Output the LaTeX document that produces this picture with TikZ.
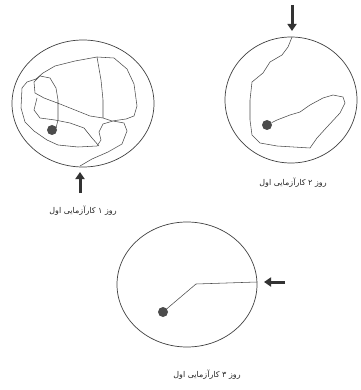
\documentclass[tikz,border=0pt]{standalone}
\usepackage{fontspec}
\usetikzlibrary{arrows.meta}
\TeXXeTstate=1
\newfontfamily\arabicfont[Script=Arabic]{DejaVu Sans}
\begin{document}
\begin{tikzpicture}[x=1pt,y=-1pt,
  rim/.style={draw=black!75, line width=0.7pt},
  trail/.style={draw=black!70, line width=0.55pt, line join=round},
  platform/.style={circle, fill=black!70, minimum size=10pt, inner sep=0pt},
  cue/.style={line width=3pt, draw=black!80, -{Triangle[width=9pt,length=7pt]}},
  caption/.style={font=\arabicfont\fontsize{8}{9}\selectfont, text=black!85, inner sep=0pt}]
\useasboundingbox (0,0) rectangle (360,390);
% pool 1
\draw[rim] (83,103.5) ellipse [x radius=71, y radius=63.5];
\node[platform] (d1) at (52,130) {};
\coordinate (s1) at (80,166);
\draw[trail] (s1) -- (92,159) -- (108,152) -- (122,144) -- (127,131) -- (124,123) -- (113,121) -- (103,124) -- (99,132) -- (101,140) -- (97,146) -- (78,147) -- (58,145) -- (47,140) -- (34,131) -- (25,122) -- (21,108) -- (22,88) -- (27,82) -- (36,79) -- (43,73) -- (55,66) -- (75,61) -- (97,57) -- (114,58) -- (127,69) -- (134,84) -- (137,106) -- (134,116) -- (126,119) -- (112,121) -- (103,118) -- (90,116) -- (75,110) -- (60,104) -- (44,98) -- (35,93) -- (34,82) -- (40,76) -- (50,78) -- (56,88) -- (58,100) -- (58,120) -- (56,128) -- (d1);
\draw[trail] (103,118) -- (103,100) -- (101,80) -- (97,57);
\draw[trail] (37,98) -- (34,110) -- (40,118) -- (55,120) -- (70,123) -- (84,128) -- (92,138) -- (99,146);
\draw[cue] (80,193) -- (80,172);
\node[caption] (t1) at (83,211) {\beginR روز ۱ کارآزمایی اول\endR};
% pool 2
\draw[rim] (291,100) ellipse [x radius=66, y radius=63];
\node[platform] (d2) at (267,125) {};
\coordinate (s2) at (292,37);
\draw[trail] (s2) -- (288,47) -- (282,55) -- (270,62) -- (263,73) -- (252,82) -- (250,100) -- (250,120) -- (252,135) -- (260,143) -- (277,146) -- (310,148) -- (317,138) -- (327,127) -- (340,113) -- (345,103) -- (343,97) -- (333,95) -- (323,98) -- (310,105) -- (300,112) -- (290,115) -- (277,120) -- (d2);
\draw[cue] (292,5) -- (292,31);
\node[caption] (t2) at (293,183) {\beginR روز ۲ کارآزمایی اول\endR};
% pool 3
\draw[rim] (187,284.5) ellipse [x radius=70, y radius=62.5];
\node[platform] (d3) at (163,312) {};
\coordinate (s3) at (257,282);
\draw[trail] (s3) -- (196,284) -- (d3);
\draw[cue] (285,282) -- (264,282);
\node[caption] (t3) at (207,375) {\beginR روز ۳ کارآزمایی اول\endR};
\end{tikzpicture}
\end{document}
